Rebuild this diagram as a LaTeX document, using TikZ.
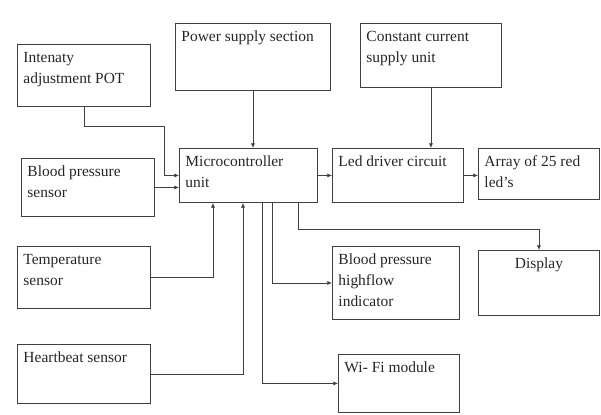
\documentclass[tikz,border=0pt]{standalone}
\usepackage{fontspec}
\setmainfont{Liberation Serif}
\usetikzlibrary{arrows.meta,calc}

\newcommand{\blktxt}[3]{\parbox[t][#2][t]{#1}{\raggedright\strut#3}}

\begin{document}
\begin{tikzpicture}[
  x=0.03cm, y=-0.03cm,
  every node/.style={font=\fontsize{13.2}{18}\selectfont, text=black!85},
  blk/.style={draw=black!75, line width=0.8pt, anchor=north west,
              inner xsep=0.18cm, inner ysep=0.09cm},
  arrow/.style={draw=black!75, line width=0.6pt, -{Latex[length=4pt,width=3.5pt]}}]

  \useasboundingbox (0,0) rectangle (601,414);

  \node[blk] (pot)   at (17,44)   {\blktxt{3.63cm}{1.68cm}{Intenaty\\adjustment POT}};
  \node[blk] (power) at (175,23)  {\blktxt{4.29cm}{1.83cm}{Power supply section}};
  \node[blk] (ccs)   at (360,23)  {\blktxt{3.87cm}{1.74cm}{Constant current\\supply unit}};
  \node[blk] (mcu)   at (179,148) {\blktxt{3.78cm}{1.44cm}{Microcontroller\\unit}};
  \node[blk] (drv)   at (332,148) {\blktxt{3.57cm}{1.44cm}{Led driver circuit}};
  \node[blk] (arr)   at (478,148) {\blktxt{3.27cm}{1.35cm}{Array of 25 red\\led's}};
  \node[blk] (bps)   at (21,158)  {\blktxt{3.63cm}{1.56cm}{Blood pressure\\sensor}};
  \node[blk] (temp)  at (17,246)  {\blktxt{3.63cm}{1.68cm}{Temperature\\sensor}};
  \node[blk] (hb)    at (17,344)  {\blktxt{3.63cm}{1.59cm}{Heartbeat sensor}};
  \node[blk] (ind)   at (332,246) {\blktxt{3.45cm}{2.01cm}{Blood pressure\\highflow\\indicator}};
  \node[blk] (disp)  at (478,250) {\parbox[t][1.77cm][t]{3.27cm}{\centering\strut Display}};
  \node[blk] (wifi)  at (338,354) {\blktxt{3.27cm}{1.56cm}{Wi- Fi module}};

  \draw[arrow] (pot.south) -- ++(0,19) -| ($(mcu.west)+(-15,0)$) -- (mcu.west);
  \draw[arrow] (bps.east) -- (bps.east -| mcu.west);
  \draw[arrow] (power.south) -- (power.south |- mcu.north);
  \draw[arrow] (ccs.south) -- (ccs.south |- drv.north);
  \draw[arrow] (mcu.east) -- (drv.west);
  \draw[arrow] (drv.east) -- (drv.east -| arr.west);
  \draw[arrow] (temp.east) -| ($(mcu.south west)+(34,0)$);
  \draw[arrow] (hb.east) -| ($(mcu.south west)+(64,0)$);
  \draw[arrow] ($(mcu.south west)+(83,0)$) |- (wifi.west);
  \draw[arrow] ($(mcu.south west)+(93,0)$) |- (ind.west);
  \draw[arrow] ($(mcu.south west)+(119,0)$) -- ++(0,26) -| (disp.north);

\end{tikzpicture}
\end{document}
